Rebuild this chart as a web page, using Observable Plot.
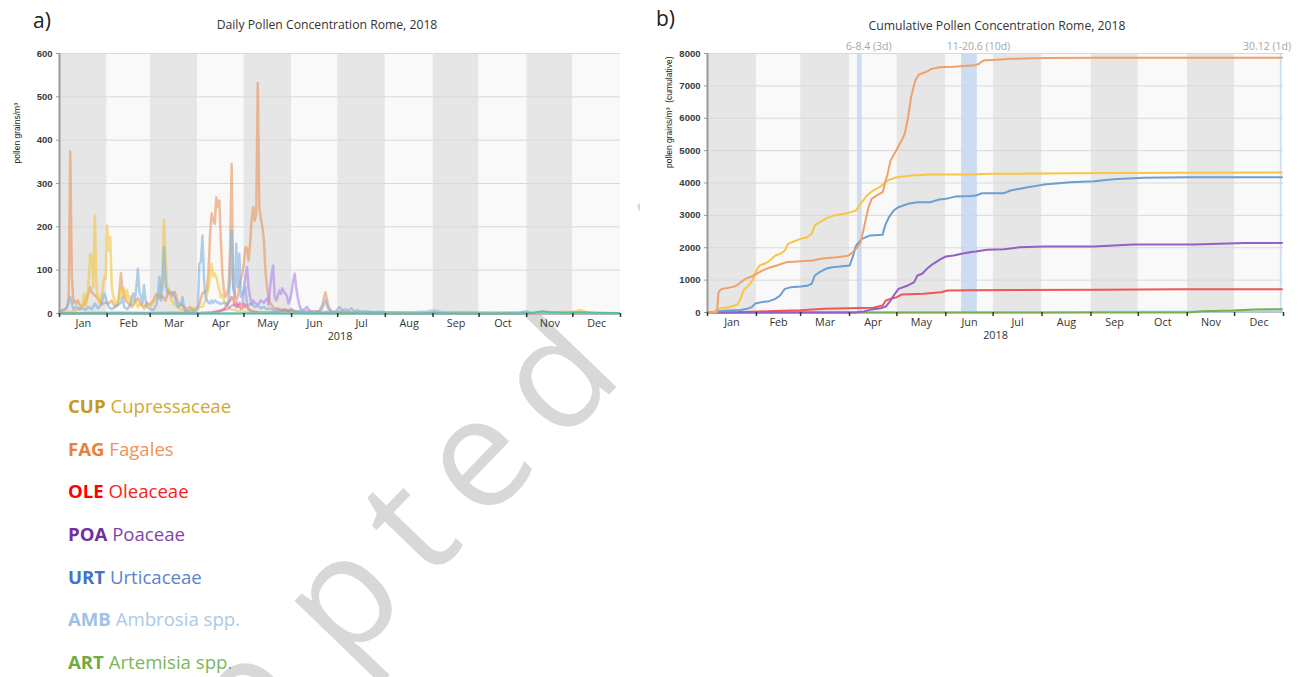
<!DOCTYPE html>
<html><head><meta charset="utf-8">
<script src="https://cdn.jsdelivr.net/npm/d3@7"></script>
<script src="https://cdn.jsdelivr.net/npm/@observablehq/plot@0.6"></script>
<style>
html,body{margin:0;padding:0;background:#fff;}
body{width:1303px;height:677px;overflow:hidden;position:relative;font-family:"Open Sans",sans-serif;}
#wm{position:absolute;left:0;top:0;z-index:0;}
.panel{position:absolute;top:0;z-index:1;}
.lab{position:absolute;z-index:2;color:#222;font-size:21px;line-height:21px;}
.ttl{position:absolute;z-index:2;color:#333;font-size:12.2px;line-height:12px;white-space:nowrap;transform:translateX(-50%);}
.leg{position:absolute;left:68px;z-index:2;font-size:18.6px;line-height:19px;white-space:nowrap;}
.leg b{font-weight:700;}
</style></head><body>
<svg id="wm" width="1303" height="677"></svg>
<div id="pa" class="panel" style="left:0"></div>
<div id="pb" class="panel" style="left:640px"></div>
<div class="lab" style="left:33px;top:10px">a)</div>
<div class="lab" style="left:656px;top:8px">b)</div>
<div class="ttl" style="left:327px;top:19px">Daily Pollen Concentration Rome, 2018</div>
<div class="ttl" style="left:997px;top:20px">Cumulative Pollen Concentration Rome, 2018</div>
<div id="legend"></div>
<script>
// ---------- data ----------
const months = ["Jan","Feb","Mar","Apr","May","Jun","Jul","Aug","Sep","Oct","Nov","Dec"];
const yTicksDaily = [0,100,200,300,400,500,600];
const yTicksCum = [0,1000,2000,3000,4000,5000,6000,7000,8000];
const taxa = ["CUP","FAG","OLE","POA","URT","AMB","ART"];
const taxaNames = ["Cupressaceae","Fagales","Oleaceae","Poaceae","Urticaceae","Ambrosia spp.","Artemisia spp."];

// daily values: [day of year, pollen grains/m3]
const dailyFAG = [[1,5],[3,8],[5,10],[6,15],[7,40],[8,374],[9,90],[10,25],[11,30],[12,22],[13,30],[15,15],[17,20],[19,38],[20,50],[21,61],[22,48],[23,46],[25,38],[27,30],[29,22],[31,25],[33,23],[35,30],[37,15],[39,20],[40,55],[41,93],[42,53],[43,46],[44,30],[46,23],[48,15],[50,25],[52,35],[54,20],[56,15],[58,25],[60,20],[62,30],[64,45],[66,35],[68,40],[70,30],[72,55],[74,40],[76,50],[78,25],[80,20],[82,15],[84,10],[86,15],[88,10],[90,12],[91,15],[92,20],[93,35],[94,46],[95,50],[96,48],[97,55],[98,100],[99,184],[100,231],[101,215],[102,207],[103,268],[104,245],[105,261],[106,168],[107,90],[108,53],[109,38],[110,45],[111,61],[112,150],[113,345],[114,61],[115,45],[116,30],[117,40],[118,60],[119,80],[120,92],[121,120],[122,153],[123,150],[124,122],[125,160],[126,214],[127,245],[128,214],[129,230],[130,532],[131,245],[132,220],[133,199],[134,168],[135,99],[136,60],[137,38],[138,25],[139,20],[141,10],[143,12],[145,8],[147,10],[150,5],[155,5],[160,3],[165,5],[170,5],[172,20],[174,49],[176,15],[178,5],[180,3],[185,5],[190,3],[200,2],[210,3],[220,2],[240,1],[260,1],[300,0],[365,0]];
const dailyCUP = [[1,0],[5,3],[10,5],[14,10],[16,20],[17,46],[18,15],[19,30],[20,80],[21,138],[22,130],[23,61],[24,226],[25,61],[26,38],[27,23],[28,40],[29,53],[30,84],[31,80],[32,203],[33,145],[34,176],[35,61],[36,40],[37,30],[38,20],[40,35],[41,60],[42,40],[43,58],[44,35],[45,54],[46,30],[47,40],[48,20],[50,30],[52,15],[54,25],[56,10],[58,20],[60,15],[62,25],[64,35],[66,40],[67,60],[68,92],[69,216],[70,130],[71,60],[72,58],[73,40],[74,30],[76,20],[78,15],[80,10],[82,8],[84,5],[86,10],[88,8],[90,10],[92,15],[94,15],[96,30],[98,60],[99,90],[100,115],[101,85],[102,92],[103,84],[104,69],[105,55],[106,38],[107,45],[108,30],[110,20],[112,10],[115,8],[118,5],[122,3],[130,2],[140,2],[160,1],[200,1],[300,2],[335,4],[340,8],[345,2],[365,0]];
const dailyOLE = [[1,0],[20,1],[40,2],[60,1],[75,2],[90,1],[100,2],[105,5],[108,10],[110,20],[111,25],[112,30],[113,38],[114,35],[115,20],[116,25],[117,15],[118,20],[119,10],[120,12],[121,22],[122,15],[123,20],[124,10],[126,5],[130,3],[135,2],[140,3],[145,5],[148,8],[150,5],[152,10],[154,3],[160,1],[200,0],[365,0]];
const dailyPOA = [[1,0],[90,0],[95,2],[100,3],[104,5],[108,8],[110,10],[112,15],[114,20],[116,15],[118,25],[120,20],[121,60],[122,85],[123,107],[124,60],[125,38],[126,20],[127,30],[128,25],[130,20],[132,30],[134,25],[136,35],[137,20],[138,60],[139,90],[140,111],[141,38],[142,30],[143,40],[144,53],[145,45],[146,58],[147,50],[148,46],[149,40],[150,23],[151,30],[152,50],[153,75],[154,92],[155,60],[156,38],[157,20],[158,10],[160,8],[162,15],[164,5],[166,2],[170,3],[175,4],[180,3],[190,2],[200,2],[220,1],[260,2],[280,1],[340,1],[365,0]];
const dailyURT = [[1,5],[4,8],[6,15],[7,25],[8,38],[9,23],[10,10],[12,15],[14,10],[16,12],[18,8],[20,15],[22,10],[24,23],[26,12],[28,20],[30,46],[31,38],[32,25],[33,15],[35,10],[37,15],[39,20],[41,25],[42,38],[43,15],[45,10],[47,20],[49,46],[50,30],[51,60],[52,103],[53,50],[54,38],[55,23],[56,65],[57,30],[58,15],[60,10],[62,8],[64,20],[65,38],[66,84],[67,30],[68,60],[69,153],[70,69],[71,50],[72,46],[73,48],[74,50],[75,45],[76,38],[77,25],[78,15],[80,20],[81,38],[82,15],[83,5],[85,5],[87,8],[89,5],[91,10],[92,115],[93,120],[94,180],[95,80],[96,38],[97,30],[98,25],[99,23],[100,30],[101,25],[102,30],[103,28],[104,25],[106,22],[108,25],[110,20],[111,30],[112,80],[113,191],[114,61],[115,38],[116,161],[117,61],[118,138],[119,38],[120,45],[121,50],[122,61],[123,23],[124,20],[126,23],[128,15],[130,18],[132,12],[134,15],[136,10],[138,12],[140,8],[142,10],[145,8],[148,5],[150,8],[155,5],[160,5],[165,3],[170,5],[172,12],[174,30],[176,10],[178,3],[181,5],[183,15],[185,8],[187,10],[189,6],[191,12],[193,5],[195,8],[197,4],[200,5],[205,3],[210,4],[215,2],[220,3],[230,2],[240,3],[245,5],[250,2],[260,2],[270,1],[300,2],[305,5],[307,2],[320,1],[340,1],[365,0]];
const dailyAMB = [[1,0],[210,0],[215,2],[230,3],[240,5],[245,8],[250,4],[260,2],[275,1],[300,0],[365,0]];
const dailyART = [[1,0],[300,0],[310,2],[315,5],[320,3],[330,2],[340,3],[350,2],[365,1]];

// cumulative values: [day of year, pollen grains/m3 cumulative]
const cumFAG = [[1,0],[6,0],[7,20],[8,630],[10,730],[14,760],[18,800],[20,850],[22,935],[25,1040],[29,1110],[32,1195],[36,1300],[41,1400],[45,1450],[51,1555],[60,1585],[68,1605],[72,1650],[74,1668],[83,1709],[90,1750],[93,1863],[96,2018],[98,2170],[100,2585],[103,3250],[105,3510],[108,3610],[112,3715],[113,3900],[114,4100],[115,4250],[117,4694],[120,4950],[124,5312],[126,5518],[128,6000],[130,6650],[132,7050],[133,7200],[135,7350],[139,7420],[143,7525],[148,7575],[157,7590],[168,7628],[170,7630],[173,7680],[175,7760],[177,7790],[185,7810],[193,7835],[214,7860],[250,7865],[365,7870]];
const cumCUP = [[1,0],[4,0],[6,60],[8,113],[14,165],[18,216],[20,247],[22,422],[24,700],[26,783],[28,885],[30,1040],[32,1297],[34,1451],[38,1523],[41,1626],[44,1760],[47,1812],[50,1915],[52,2120],[56,2200],[60,2275],[64,2325],[67,2430],[69,2687],[72,2790],[77,2924],[81,2995],[85,3028],[90,3070],[95,3150],[98,3356],[102,3613],[106,3768],[110,3870],[115,4076],[121,4180],[130,4230],[142,4260],[168,4265],[180,4283],[230,4300],[300,4320],[365,4325]];
const cumOLE = [[1,0],[20,5],[30,20],[43,50],[60,72],[75,113],[90,134],[106,144],[112,216],[114,370],[117,422],[121,473],[124,555],[138,576],[149,628],[153,680],[170,690],[250,700],[300,720],[365,720]];
const cumPOA = [[1,0],[95,0],[100,30],[104,82],[111,134],[114,185],[117,370],[119,525],[122,730],[128,835],[132,937],[134,1143],[137,1195],[140,1349],[144,1503],[149,1657],[152,1730],[157,1760],[162,1812],[168,1870],[171,1884],[178,1935],[189,1956],[199,2018],[214,2040],[246,2040],[271,2100],[309,2100],[341,2150],[365,2150]];
const cumURT = [[1,0],[5,20],[8,40],[14,62],[22,80],[26,113],[29,165],[31,268],[35,320],[40,350],[44,422],[47,525],[50,730],[54,783],[60,800],[64,824],[67,885],[69,1143],[72,1246],[76,1349],[80,1400],[85,1420],[91,1451],[93,1708],[95,2050],[96,2120],[99,2275],[104,2380],[112,2400],[113,2600],[114,2738],[116,2945],[119,3150],[122,3253],[128,3356],[134,3408],[142,3408],[147,3480],[152,3510],[158,3580],[168,3600],[171,3613],[175,3685],[189,3685],[193,3768],[204,3870],[214,3950],[231,4024],[246,4055],[255,4100],[261,4127],[278,4160],[305,4180],[365,4180]];
const cumAMB = [[1,0],[215,0],[235,8],[250,20],[270,25],[365,28]];
const cumART = [[1,0],[305,0],[315,40],[334,62],[347,93],[365,103]];

// highlighted periods in panel b: [start, end (exclusive), label]
const highlights = [["2018-04-06","2018-04-09","6-8.4 (3d)"],["2018-06-11","2018-06-21","11-20.6 (10d)"],["2018-12-30","2018-12-31","30.12 (1d)"]];

// ---------- styles ----------
const cumColors = {CUP:"#fcc445",FAG:"#f0a06c",OLE:"#f25555",POA:"#9161c4",URT:"#6a9fd3",AMB:"#a9cdea",ART:"#74b050"};
const dailyColors = {CUP:"#f2c440",FAG:"#e8945c",OLE:"#f06060",POA:"#b184ee",URT:"#7fb0e0",AMB:"#a9cdea",ART:"#52c49a"};
const legendBold = ["#c49a1c","#ec7f38","#ff0000","#7030a0","#4472c4","#9dc3e6","#6fac46"];
const legendText = ["#cfa934","#f0925a","#ff1a1a","#7d44ad","#5a83cc","#a8cae9","#7ab65a"];

const dailySeries = {CUP:dailyCUP,FAG:dailyFAG,OLE:dailyOLE,POA:dailyPOA,URT:dailyURT,AMB:dailyAMB,ART:dailyART};
const cumSeries = {CUP:cumCUP,FAG:cumFAG,OLE:cumOLE,POA:cumPOA,URT:cumURT,AMB:cumAMB,ART:cumART};

const D = d => new Date(Date.UTC(2018, 0, d));
const P = s => new Date(s + "T00:00:00Z");
const bands = months.map((m, i) => ({m, i, x1: new Date(Date.UTC(2018, i, 1)), x2: new Date(Date.UTC(2018, i + 1, 1))}));
const bandsGray = bands.filter(b => b.i % 2 === 0);
const bandsLight = bands.filter(b => b.i % 2 === 1);
const monthStarts = bands.map(b => b.x1).concat([bands[11].x2]);
const monthMids = bands.map(b => new Date((+b.x1 + +b.x2) / 2));
const xDomain = [D(1), D(366)];

function commonMarks(yTicks, yLabel, labelDx, labelDy) {
  return {
    back: [
      Plot.rect(bandsGray, {x1: "x1", x2: "x2", fill: "#e6e6e6"}),
      Plot.rect(bandsLight, {x1: "x1", x2: "x2", fill: "#f9f9f9"}),
      Plot.gridY(yTicks, {stroke: "#d9d9d9", strokeOpacity: 1, strokeWidth: 1})
    ],
    front: [
      Plot.ruleX([D(1)], {stroke: "#9a9a9a", strokeWidth: 2}),
      Plot.axisY(yTicks, {tickSize: 3, tickPadding: 4, tickFormat: d => String(d), fontSize: 9.5, fontWeight: "bold", fontFamily: "Liberation Sans", fill: "#3a3a3a", stroke: "#999", label: null}),
      Plot.axisX(monthStarts, {tickSize: 4, tickFormat: () => "", stroke: "#333", strokeWidth: 1.5, label: null}),
      Plot.axisX(monthMids, {tickSize: 0, tickPadding: 6, tickFormat: d => months[d.getUTCMonth()], fontSize: 10.8, fontFamily: "Open Sans", fill: "#333", label: null}),
      Plot.text(["2018"], {text: d => d, frameAnchor: "bottom", dy: 26, fontSize: 10.8, fontFamily: "Open Sans", fill: "#333"}),
      Plot.text([yLabel], {text: d => d, frameAnchor: "left", dx: labelDx, dy: labelDy, rotate: -90, fontSize: 8.5, fontFamily: "Liberation Sans", fill: "#222"})
    ]
  };
}

// ---------- panel a ----------
const ca = commonMarks(yTicksDaily, "pollen grains/m³", -42, -20);
const dailyOrder = ["FAG","CUP","POA","OLE","URT","AMB","ART"];
const plotA = Plot.plot({
  width: 640, height: 346,
  marginLeft: 59, marginRight: 20, marginTop: 53, marginBottom: 33,
  style: {background: "transparent"},
  x: {type: "utc", domain: xDomain, axis: null},
  y: {domain: [0, 600], axis: null},
  marks: [
    ...ca.back,
    Plot.ruleY([0], {stroke: "#bdbdbd"}),
    ...dailyOrder.map(k => Plot.line(dailySeries[k], {x: d => D(d[0]), y: d => d[1], stroke: dailyColors[k], strokeWidth: k === "ART" ? 2 : 2.5, strokeOpacity: k === "ART" ? 1 : 0.6})),
    ...ca.front
  ]
});
document.getElementById("pa").appendChild(plotA);

// ---------- panel b ----------
const cb = commonMarks(yTicksCum, "pollen grains/m³  (cumulative)", -38, -15);
const hl = highlights.map(h => ({x1: P(h[0]), x2: P(h[1]), label: h[2]}));
const cumOrder = ["AMB","ART","OLE","POA","URT","CUP","FAG"];
const plotB = Plot.plot({
  width: 663, height: 350,
  marginLeft: 67, marginRight: 20, marginTop: 53, marginBottom: 38,
  style: {background: "white"},
  x: {type: "utc", domain: xDomain, axis: null},
  y: {domain: [0, 8000], axis: null},
  marks: [
    ...cb.back,
    Plot.rect(hl, {x1: "x1", x2: "x2", fill: "#c6d7ee", fillOpacity: 0.85}),
    Plot.text(hl.slice(0, 2), {x: d => new Date((+d.x1 + +d.x2) / 2), y: 8000, text: "label", dx: 9, dy: -7, fontSize: 10.5, fontFamily: "Open Sans", fill: "#a6a6a6"}),
    Plot.text(hl.slice(2), {x: d => new Date((+d.x1 + +d.x2) / 2), y: 8000, text: "label", textAnchor: "end", dx: 10, dy: -7, fontSize: 10.5, fontFamily: "Open Sans", fill: "#a6a6a6"}),
    Plot.ruleY([0], {stroke: "#bdbdbd"}),
    ...cumOrder.map(k => Plot.line(cumSeries[k], {x: d => D(d[0]), y: d => d[1], stroke: cumColors[k], strokeWidth: 2})),
    ...cb.front
  ]
});
document.getElementById("pb").appendChild(plotB);

// ---------- legend ----------
const legend = document.getElementById("legend");
taxa.forEach((t, i) => {
  const div = document.createElement("div");
  div.className = "leg";
  div.style.top = (396 + i * 42.67) + "px";
  div.innerHTML = `<b style="color:${legendBold[i]}">${t}</b> <span style="color:${legendText[i]}">${taxaNames[i]}</span>`;
  legend.appendChild(div);
});

// ---------- watermark (behind the chart panels) ----------
const wm = d3.select("#wm");
const g = wm.append("g").attr("transform", "translate(345,668) rotate(-46)")
  .attr("font-family", "Open Sans").attr("font-size", 155).attr("letter-spacing", 24).attr("fill", "#d8d8d8");
g.append("text").attr("text-anchor", "end").attr("dx", -24).text("Acce");
g.append("text").attr("text-anchor", "start").text("pted Article");
</script>
</body></html>
